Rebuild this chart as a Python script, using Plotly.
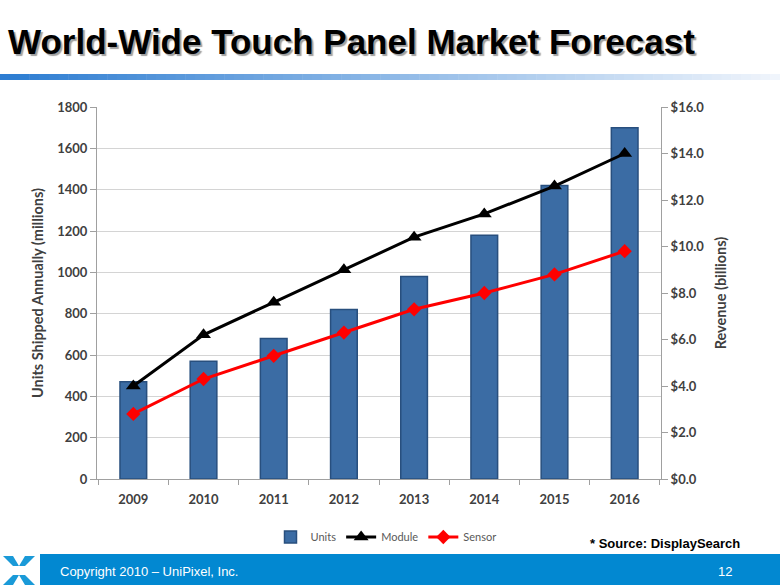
import plotly.graph_objects as go

years = ["2009", "2010", "2011", "2012", "2013", "2014", "2015", "2016"]
units = [470, 570, 680, 820, 980, 1180, 1420, 1700]
module = [4.0, 6.2, 7.6, 9.0, 10.4, 11.4, 12.6, 14.0]
sensor = [2.8, 4.3, 5.3, 6.3, 7.3, 8.0, 8.8, 9.8]

W, H = 780, 585
L, R, T, B = 97, 661, 107, 479

tickfont = dict(family="Lato", size=13, color="#404040", weight="bold")

fig = go.Figure()
fig.add_trace(go.Bar(
    x=years, y=units, name="Units", width=0.38,
    marker=dict(color="#3b6ca4", line=dict(color="#284f7e", width=1.5)),
))
fig.add_trace(go.Scatter(
    x=years, y=module, name="Module", yaxis="y2", mode="lines+markers",
    line=dict(color="black", width=3),
    marker=dict(symbol="triangle-up", size=13, color="black"),
))
fig.add_trace(go.Scatter(
    x=years, y=sensor, name="Sensor", yaxis="y2", mode="lines+markers",
    line=dict(color="#ff0000", width=3),
    marker=dict(symbol="diamond", size=11, color="#ff0000"),
))


def px(x):
    return (x - L) / (R - L)


def py(y):
    return (B - y) / (B - T)


shapes = []
# gradient rule under the title
n = 80
for i in range(n):
    t = i / (n - 1)
    r = int(45 + (240 - 45) * t)
    g = int(125 + (245 - 125) * t)
    b = int(210 + (252 - 210) * t)
    shapes.append(dict(type="rect", xref="paper", yref="paper",
                       x0=px(i * W / n), x1=px((i + 1) * W / n + 0.5),
                       y0=py(80), y1=py(74),
                       fillcolor=f"rgb({r},{g},{b})", line=dict(width=0), layer="below"))
# footer bar
shapes.append(dict(type="rect", xref="paper", yref="paper",
                   x0=px(40), x1=px(W), y0=py(H), y1=py(554),
                   fillcolor="#0288d1", line=dict(width=0)))

# logo: four chevrons forming an X
logo_col = "#1a9ad8"
chevs = [
    [(3, 556), (13, 556), (19, 566), (13, 566)],
    [(35, 556), (25, 556), (19, 566), (25, 566)],
    [(3, 585), (13, 585), (19, 575), (13, 575)],
    [(35, 585), (25, 585), (19, 575), (25, 575)],
]
for pts in chevs:
    path = "M " + " L ".join(f"{px(x)},{py(y)}" for x, y in pts) + " Z"
    shapes.append(dict(type="path", xref="paper", yref="paper", path=path,
                       fillcolor=logo_col, line=dict(width=0)))

title_txt = "<b>World-Wide Touch Panel Market Forecast</b>"
annotations = [
    dict(text=title_txt, xref="paper", yref="paper",
         x=px(5.5), y=py(42), xanchor="left", yanchor="middle", showarrow=False,
         font=dict(family="Liberation Sans", size=35, color="black",
                   shadow="2px 2px 1px #a0a0a0")),
    dict(text="<b>* Source: DisplaySearch</b>", xref="paper", yref="paper",
         x=px(742), y=py(543), xanchor="right", yanchor="middle", showarrow=False,
         font=dict(family="Liberation Sans", size=13, color="black")),
    dict(text="Copyright 2010 – UniPixel, Inc.", xref="paper", yref="paper",
         x=px(58), y=py(571), xanchor="left", yanchor="middle", showarrow=False,
         font=dict(family="Liberation Sans", size=13, color="white")),
    dict(text="12", xref="paper", yref="paper",
         x=px(734), y=py(571), xanchor="right", yanchor="middle", showarrow=False,
         font=dict(family="Liberation Sans", size=13, color="white")),
]

fig.update_layout(
    width=W, height=H,
    margin=dict(l=L, r=W - R, t=T, b=H - B),
    paper_bgcolor="white", plot_bgcolor="white",
    showlegend=True,
    legend=dict(orientation="h", x=px(386), y=py(537), xanchor="center", yanchor="middle",
                font=dict(family="Lato", size=11, color="#595959"),
                itemwidth=30, bgcolor="rgba(0,0,0,0)", tracegroupgap=0),
    xaxis=dict(type="category", tickson="boundaries", ticks="outside", ticklen=5,
               tickcolor="#a0a0a0", showline=True, linecolor="#a0a0a0", linewidth=1,
               showgrid=False, tickfont=tickfont, ticklabelstandoff=8),
    yaxis=dict(range=[0, 1800], dtick=200, showgrid=True, gridcolor="#d4d4d4",
               showline=True, linecolor="#a0a0a0", ticks="outside", ticklen=6,
               tickcolor="#a0a0a0", tickfont=tickfont, zeroline=False,
               title=dict(text="<b>Units Shipped Annually (millions)</b>",
                          font=dict(family="Lato", size=14.5, color="#404040"), standoff=10)),
    yaxis2=dict(range=[0, 16], dtick=2, overlaying="y", side="right", showgrid=False,
                showline=True, linecolor="#a0a0a0", ticks="outside", ticklen=6,
                tickcolor="#a0a0a0", tickprefix="$", tickformat=".1f", tickfont=tickfont,
                zeroline=False,
                title=dict(text="<b>Revenue (billions)</b>",
                           font=dict(family="Lato", size=14.5, color="#404040"), standoff=12)),
    shapes=shapes,
    annotations=annotations,
    bargap=0.6,
)

fig.write_html("out.html", config={"displayModeBar": False},
               post_script="document.body.style.margin='0';document.body.style.overflow='hidden';")
